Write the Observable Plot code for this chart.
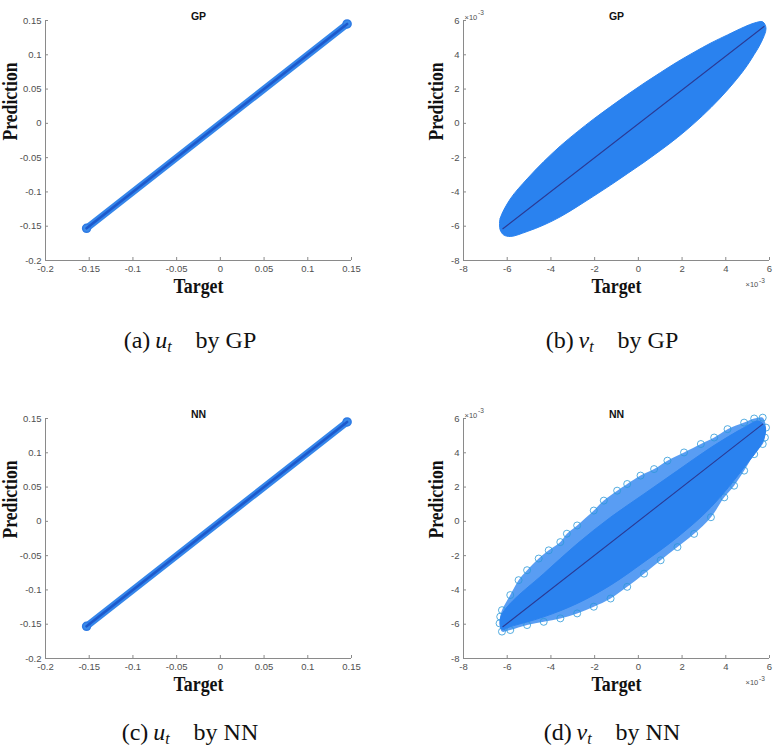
<!DOCTYPE html>
<html><head><meta charset="utf-8">
<script src="https://cdn.jsdelivr.net/npm/d3@7"></script>
<script src="https://cdn.jsdelivr.net/npm/@observablehq/plot@0.6"></script>
<style>
body{margin:0;background:#fff;}
#fig{position:relative;width:780px;height:756px;overflow:hidden;background:#fff;}
.panel{position:absolute;}
.cap{position:absolute;font-family:"Liberation Serif","Times New Roman",serif;font-size:24px;line-height:24px;white-space:nowrap;transform:translateX(-50%);color:#111;}
.cap sub{font-size:16px;vertical-align:-4px;line-height:0;}
</style></head><body><div id="fig"></div>
<script>
// ---- tick values ----
const uTicks = [-0.2, -0.15, -0.1, -0.05, 0, 0.05, 0.1, 0.15];
const vTicks = [-8, -6, -4, -2, 0, 2, 4, 6];           // ×10^-3

// ---- u_t : target vs prediction (points lie on the diagonal) ----
const uTarget = [-0.153, 0.145];
const uPredGP = [-0.153, 0.145];
const uPredNN = [-0.153, 0.145];

// ---- v_t by GP : outline of the point cloud (×10^-3) ----
const gpCloudX = [-6.35,-6.32,-5.86,-5.09,-4.33,-3.57,-2.80,-2.04,-1.27,-0.51,0.26,1.02,1.79,2.55,3.32,4.08,4.84,5.30,5.69,5.84,
                  5.61,5.30,4.84,4.08,3.32,2.55,1.79,1.02,0.26,-0.51,-1.27,-2.04,-2.80,-3.57,-4.33,-5.09,-5.86,-6.17,-6.32];
const gpCloudY = [-5.93,-5.54,-4.41,-3.24,-2.23,-1.32,-0.50,0.26,0.98,1.67,2.34,2.97,3.59,4.15,4.69,5.16,5.62,5.85,5.92,5.54,
                  4.70,4.02,3.13,1.95,0.92,0.00,-0.82,-1.57,-2.27,-2.94,-3.60,-4.24,-4.86,-5.45,-5.93,-6.31,-6.60,-6.50,-6.22];
const gpFitX = [-6.2, 5.75];
const gpFitY = [-6.15, 5.65];

// ---- v_t by NN : outer (sparse) outline and dense core outline (×10^-3) ----
const nnOuterX = [-6.32,-6.24,-5.86,-5.48,-5.09,-4.56,-4.10,-3.57,-3.27,-2.80,-2.04,-1.58,-0.97,-0.51,0.10,0.72,1.33,2.09,2.86,3.47,4.08,4.84,5.30,5.69,5.84,
                  5.79,5.69,5.30,4.84,4.38,3.93,3.32,2.55,1.79,1.02,0.26,-0.51,-1.27,-2.04,-2.80,-3.57,-4.33,-5.09,-5.86,-6.24,-6.35];
const nnOuterY = [-5.56,-5.18,-4.30,-3.43,-2.85,-2.17,-1.69,-1.21,-0.72,-0.24,0.63,1.21,1.79,2.18,2.67,3.05,3.54,4.02,4.51,4.89,5.38,5.76,6.00,6.05,5.47,
                  4.89,4.51,3.92,2.96,2.08,1.40,0.24,-0.73,-1.50,-2.27,-3.05,-3.82,-4.50,-4.98,-5.37,-5.66,-5.86,-6.05,-6.34,-6.43,-5.95];
const nnCoreX = [-6.30,-5.86,-4.33,-2.80,-1.27,0.26,1.79,3.32,4.84,5.50,5.80,
                 5.70,4.84,3.32,1.79,0.26,-1.27,-2.80,-4.33,-5.86,-6.25];
const nnCoreY = [-5.60,-4.79,-3.05,-1.31,0.24,1.60,2.96,4.31,5.47,5.85,5.50,
                 4.70,3.15,0.82,-0.92,-2.37,-3.72,-4.79,-5.57,-6.14,-6.30];
const nnFitX = [-6.2, 5.69];
const nnFitY = [-6.15, 5.67];

const fig = document.getElementById("fig");
const BLUE = "#2a82ef";
const AX = "#8a8a8a";
const TXT = "#505050";

function fmt(d){ return String(d); }

function panel({left, top, kind, title, pts, mL, mR, labDx}) {
  const W = 390, H = 310, mT = 20, mB = 50;
  const innerW = W - mL - mR, innerH = H - mT - mB;
  const isU = kind === "u";
  const ticks = isU ? uTicks : vTicks;
  const dom = isU ? [-0.2, 0.15] : [-8, 6];
  const marks = [...pts];
  marks.push(
    Plot.ruleX([dom[0]], {stroke: AX, strokeWidth: 1}),
    Plot.ruleY([dom[0]], {stroke: AX, strokeWidth: 1}),
    Plot.tickX(ticks, {x: d => d, insetTop: innerH - 3, stroke: AX}),
    Plot.tickY(ticks, {y: d => d, insetRight: innerW - 3, stroke: AX}),
    Plot.axisX(ticks, {tickSize: 0, tickPadding: 5, tickFormat: fmt, fill: TXT, fontSize: 9.5}),
    Plot.axisY(ticks, {tickSize: 0, tickPadding: 4, tickFormat: fmt, fill: TXT, fontSize: 9.5}),
    Plot.text([title], {text: d => d, frameAnchor: "top", dy: -8, fontWeight: "bold", fontSize: 10.5, fill: "#111"}),
    Plot.text(["Target"], {text: d => d, frameAnchor: "bottom", dy: 32, fontFamily: "Liberation Serif, Times New Roman, serif", fontWeight: "bold", fontSize: 20, fill: "#111"}),
    Plot.text(["Prediction"], {text: d => d, frameAnchor: "left", dx: labDx, rotate: -90, fontFamily: "Liberation Serif, Times New Roman, serif", fontWeight: "bold", fontSize: 20, fill: "#111"})
  );
  if (!isU) {
    marks.push(
      Plot.text(["×10"], {text: d => d, frameAnchor: "top-left", textAnchor: "start", dx: 1, dy: -6, fontSize: 7.5, fill: TXT}),
      Plot.text(["-3"], {text: d => d, frameAnchor: "top-left", textAnchor: "start", dx: 14.5, dy: -10, fontSize: 6.5, fill: TXT}),
      Plot.text(["×10"], {text: d => d, frameAnchor: "bottom-right", textAnchor: "start", dx: -24, dy: 26, fontSize: 7.5, fill: TXT}),
      Plot.text(["-3"], {text: d => d, frameAnchor: "bottom-right", textAnchor: "start", dx: -10.5, dy: 22, fontSize: 6.5, fill: TXT})
    );
  }
  const svg = Plot.plot({
    width: W, height: H, marginLeft: mL, marginRight: mR, marginTop: mT, marginBottom: mB,
    style: {fontFamily: "'Liberation Sans', Arial, Helvetica, sans-serif", background: "transparent", overflow: "visible"},
    x: {domain: dom, label: null},
    y: {domain: dom, label: null},
    marks
  });
  d3.select(svg).selectAll("text").filter(function(){ return this.textContent === "Target"; })
    .attr("textLength", 50).attr("lengthAdjust", "spacingAndGlyphs");
  d3.select(svg).selectAll("text").filter(function(){ return this.textContent === "Prediction"; })
    .attr("textLength", 78).attr("lengthAdjust", "spacingAndGlyphs");
  svg.classList.add("panel");
  svg.style.left = left + "px";
  svg.style.top = top + "px";
  fig.appendChild(svg);
}

function uMarks(pred) {
  const rows = uTarget.map((t, i) => ({t, p: pred[i]}));
  return [
    Plot.line(rows, {x: "t", y: "p", stroke: "#3586ea", strokeWidth: 7, strokeLinecap: "round"}),
    Plot.dot(rows, {x: "t", y: "p", r: 4, fill: "#3b8bea", stroke: "#2f7be4"}),
    Plot.line(rows, {x: "t", y: "p", stroke: "#1d59cc", strokeWidth: 2.6})
  ];
}
function outline(xs, ys){ return xs.map((x, i) => ({x, y: ys[i]})); }

function gpMarks() {
  return [
    Plot.line(outline(gpCloudX, gpCloudY), {x: "x", y: "y", curve: "catmull-rom-closed", fill: BLUE, stroke: BLUE, strokeWidth: 1}),
    Plot.line(outline(gpFitX, gpFitY), {x: "x", y: "y", stroke: "#2b3a94", strokeWidth: 1.1})
  ];
}
function nnMarks() {
  const outer = outline(nnOuterX, nnOuterY);
  return [
    Plot.line(outer, {x: "x", y: "y", curve: "catmull-rom-closed", fill: BLUE, fillOpacity: 0.78, stroke: "none"}),
    Plot.dot(outer, {x: "x", y: "y", r: 3.5, stroke: "#2b98d8", strokeWidth: 0.8, fill: "none"}),
    Plot.line(outline(nnCoreX, nnCoreY), {x: "x", y: "y", curve: "catmull-rom-closed", fill: BLUE, stroke: BLUE, strokeWidth: 1}),
    Plot.line(outline(nnFitX, nnFitY), {x: "x", y: "y", stroke: "#2b3a94", strokeWidth: 1.1})
  ];
}

panel({left: 0,   top: 0,   kind: "u", title: "GP", pts: uMarks(uPredGP), mL: 45, mR: 39, labDx: -35});
panel({left: 390, top: 0,   kind: "v", title: "GP", pts: gpMarks(),       mL: 73, mR: 11, labDx: -27});
panel({left: 0,   top: 398, kind: "u", title: "NN", pts: uMarks(uPredNN), mL: 45, mR: 39, labDx: -35});
panel({left: 390, top: 398, kind: "v", title: "NN", pts: nnMarks(),       mL: 73, mR: 11, labDx: -27});

const captions = [
  {x: 190, top: 328, html: "(a)&thinsp;<i>u<sub>t</sub></i>&emsp;by GP"},
  {x: 612, top: 328, html: "(b)&thinsp;<i>v<sub>t</sub></i>&emsp;by GP"},
  {x: 190, top: 720, html: "(c)&thinsp;<i>u<sub>t</sub></i>&emsp;by NN"},
  {x: 612, top: 720, html: "(d)&thinsp;<i>v<sub>t</sub></i>&emsp;by NN"}
];
for (const c of captions) {
  const d = document.createElement("div");
  d.className = "cap";
  d.style.left = c.x + "px";
  d.style.top = c.top + "px";
  d.innerHTML = c.html;
  fig.appendChild(d);
}
</script>
</body></html>
